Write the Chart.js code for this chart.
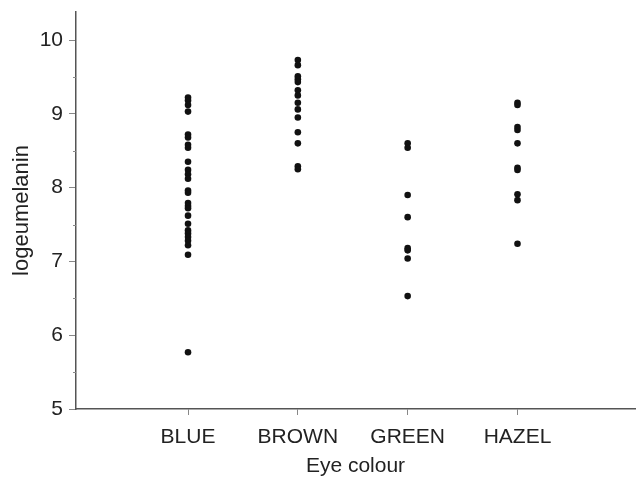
<!DOCTYPE html>
<html>
<head>
<meta charset="utf-8">
<script src="https://cdn.jsdelivr.net/npm/chart.js@4/dist/chart.umd.min.js"></script>
<style>
  html, body { margin: 0; padding: 0; background: #fff; }
  #wrap { width: 639px; height: 477px; }
</style>
</head>
<body>
<div id="wrap"><canvas id="myChart" width="639" height="477"></canvas></div>
<script>
const categories = ["BLUE", "BROWN", "GREEN", "HAZEL"];

const blue = [9.22, 9.18, 9.12, 9.03, 8.72, 8.68, 8.58, 8.54, 8.35, 8.24, 8.18, 8.12,
  7.96, 7.93, 7.79, 7.75, 7.72, 7.62, 7.51, 7.42, 7.38, 7.33, 7.28, 7.22, 7.09, 5.77];
const brown = [9.73, 9.66, 9.51, 9.47, 9.43, 9.32, 9.25, 9.15, 9.06, 8.95, 8.75, 8.6, 8.29, 8.25];
const green = [8.6, 8.54, 7.9, 7.6, 7.18, 7.15, 7.04, 6.53];
const hazel = [9.15, 9.12, 8.82, 8.78, 8.6, 8.27, 8.24, 7.91, 7.83, 7.24];

const yTicks = [5, 6, 7, 8, 9, 10];

const groups = [blue, brown, green, hazel];
const points = [];
groups.forEach((vals, i) => {
  vals.forEach((v) => points.push({ x: i + 1, y: v }));
});

const font = "'Liberation Sans', Arial, Helvetica, sans-serif";
const axisColor = "#555";

// half-unit ticks on the y axis are shorter
const minorTicks = {
  id: "minorTicks",
  afterDraw(chart) {
    const y = chart.scales.y;
    const ctx = chart.ctx;
    ctx.save();
    ctx.strokeStyle = "#888";
    ctx.lineWidth = 1;
    for (let v = 5.5; v < 10.2; v += 1) {
      const py = Math.round(y.getPixelForValue(v)) + 0.5;
      ctx.beginPath();
      ctx.moveTo(y.right - 3, py);
      ctx.lineTo(y.right, py);
      ctx.stroke();
    }
    ctx.restore();
  },
};

const chart = new Chart("myChart", {
  type: "scatter",
  data: {
    datasets: [
      {
        data: points,
        backgroundColor: "#111",
        borderColor: "#111",
        pointRadius: 3.3,
        borderWidth: 0,
      },
    ],
  },
  options: {
    responsive: false,
    animation: false,
    layout: { padding: { top: 12, right: 0, left: 0, bottom: 0 } },
    plugins: { legend: { display: false }, tooltip: { enabled: false } },
    scales: {
      x: {
        type: "linear",
        min: -0.02,
        max: 5.07,
        afterBuildTicks(scale) {
          scale.ticks = categories.map((c, i) => ({ value: i + 1 }));
        },
        afterFit(scale) {
          scale.height = 68;
          scale.paddingLeft = 0;
          scale.paddingRight = 0;
        },
        border: { color: axisColor, width: 1.5 },
        grid: { drawOnChartArea: false, tickLength: 6, color: "#888" },
        ticks: {
          color: "#222",
          font: { family: font, size: 21 },
          padding: 10,
          maxRotation: 0,
          callback: (v) => categories[v - 1] || "",
        },
        title: {
          display: true,
          text: "Eye colour",
          color: "#222",
          font: { family: font, size: 21, lineHeight: 1 },
          padding: { top: 0, bottom: 0 },
        },
      },
      y: {
        min: 5,
        max: 10.38,
        afterBuildTicks(scale) {
          scale.ticks = yTicks.map((v) => ({ value: v }));
        },
        afterFit(scale) {
          scale.width = 76;
          scale.paddingTop = 0;
          scale.paddingBottom = 0;
        },
        border: { color: axisColor, width: 1.5 },
        grid: { drawOnChartArea: false, tickLength: 7, color: "#888" },
        ticks: {
          color: "#222",
          font: { family: font, size: 21 },
          padding: 6,
        },
        title: {
          display: true,
          text: "logeumelanin",
          color: "#222",
          font: { family: font, size: 22 },
          padding: { top: 9, bottom: 0 },
        },
      },
    },
  },
  plugins: [minorTicks],
});
</script>
</body>
</html>
